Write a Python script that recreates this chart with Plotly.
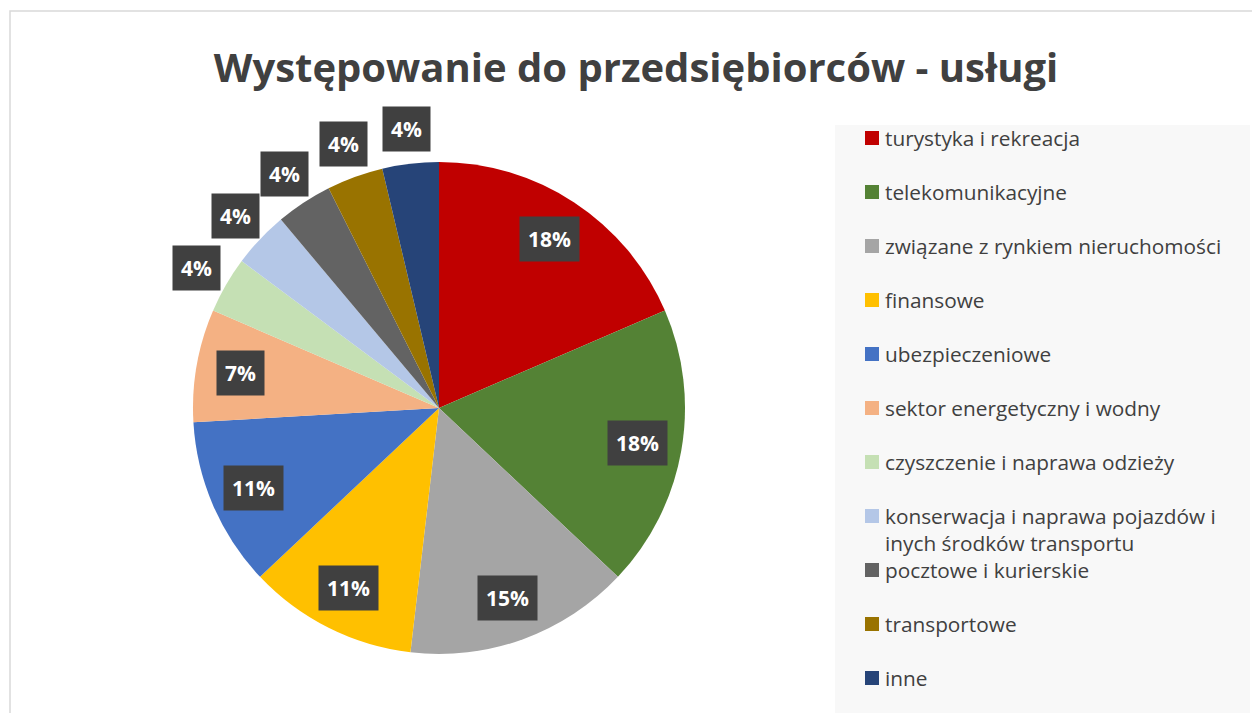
import math
import plotly.graph_objects as go

# data
labels = ["turystyka i rekreacja", "telekomunikacyjne", "związane z rynkiem nieruchomości",
          "finansowe", "ubezpieczeniowe", "sektor energetyczny i wodny",
          "czyszczenie i naprawa odzieży",
          "konserwacja i naprawa pojazdów i<br>inych środków transportu",
          "pocztowe i kurierskie", "transportowe", "inne"]
counts = [5, 5, 4, 3, 3, 2, 1, 1, 1, 1, 1]          # slice sizes
pct_text = ["18%", "18%", "15%", "11%", "11%", "7%", "4%", "4%", "4%", "4%", "4%"]
colors = ["#C00000", "#548235", "#A5A5A5", "#FFC000", "#4472C4", "#F4B183",
          "#C5E0B4", "#B4C7E7", "#636363", "#997300", "#264478"]

W, H = 1252, 713
FONT = "Open Sans"
TXT = "#404040"

# pie placement in pixels
cx, cy, R = 439, 408, 246

fig = go.Figure()
fig.add_trace(go.Pie(labels=labels, values=counts, sort=False, direction="clockwise",
                     rotation=0, marker=dict(colors=colors, line=dict(width=0)),
                     textinfo="none", hoverinfo="label+percent", showlegend=False,
                     domain=dict(x=[(cx - R) / W, (cx + R) / W],
                                 y=[1 - (cy + R) / H, 1 - (cy - R) / H])))

shapes = []
annotations = []

# data labels in dark boxes (small slices get their label outside)
total = sum(counts)
cum = 0
for v, t in zip(counts, pct_text):
    mid = (cum + v / 2) / total * 2 * math.pi
    cum += v
    f = 1.14 if v / total < 0.05 else 0.82
    px_ = cx + R * f * math.sin(mid)
    py_ = cy - R * f * math.cos(mid)
    annotations.append(dict(x=px_ / W, y=1 - py_ / H, xref="paper", yref="paper",
                            xanchor="center", yanchor="middle",
                            text=f"<b>{t}</b>", showarrow=False, bgcolor="#404040", borderpad=8,
                            font=dict(family=FONT, size=21, color="white")))

# frame and legend background
shapes.append(dict(type="rect", xref="paper", yref="paper", x0=10 / W, x1=1.01, y0=-0.01, y1=1 - 11 / H,
                   line=dict(color="#D9D9D9", width=1.5), fillcolor="rgba(0,0,0,0)", layer="below"))
shapes.append(dict(type="rect", xref="paper", yref="paper", x0=835 / W, x1=1250 / W, y0=-0.01, y1=1 - 125 / H,
                   line=dict(width=0), fillcolor="#F8F8F8", layer="below"))

# legend drawn by hand
for i, (lab, col) in enumerate(zip(labels, colors)):
    ry = 138 + 54 * i
    shapes.append(dict(type="rect", xref="paper", yref="paper",
                       x0=865 / W, x1=879 / W, y0=1 - (ry + 7) / H, y1=1 - (ry - 7) / H,
                       fillcolor=col, line=dict(width=0)))
    annotations.append(dict(x=883 / W, y=1 - (ry - 16) / H, xref="paper", yref="paper",
                            xanchor="left", yanchor="top", align="left", text=lab, showarrow=False,
                            font=dict(family=FONT, size=20.8, color=TXT)))

fig.update_layout(
    width=W, height=H, margin=dict(l=0, r=0, t=0, b=0),
    paper_bgcolor="white", plot_bgcolor="white",
    title=dict(text="<b>Występowanie do przedsiębiorców - usługi</b>", x=636 / W, xanchor="center",
               y=1 - 68 / H, yanchor="middle", font=dict(family=FONT, size=40, color=TXT)),
    shapes=shapes, annotations=annotations,
)
fig.write_html("out.html", config={"displayModeBar": False},
               post_script="document.body.style.margin='0';")
